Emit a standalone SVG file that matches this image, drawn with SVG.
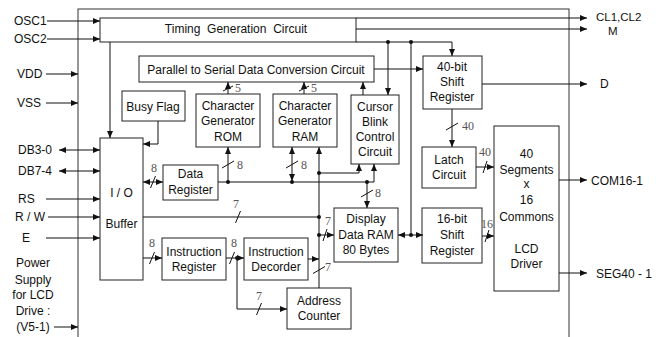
<svg xmlns="http://www.w3.org/2000/svg" width="663" height="337" viewBox="0 0 663 337">
<style>
.b{fill:#fff;stroke:#222;stroke-width:1}
.o{fill:none;stroke:#333;stroke-width:1}
.t{font-family:"Liberation Sans",Arial,sans-serif;font-size:12px;fill:#111;text-anchor:middle}
.tl{font-family:"Liberation Sans",Arial,sans-serif;font-size:12px;fill:#111}
.n{font-family:"Liberation Serif","Times New Roman",serif;font-size:12px;fill:#555;text-anchor:middle}
.c{fill:none;stroke:#111;stroke-width:1}
.ar{marker-end:url(#a)}
.ab{marker-start:url(#a);marker-end:url(#a)}
.s{stroke:#111;stroke-width:1}
.d{fill:#111}
</style>
<defs>
<marker id="a" markerUnits="userSpaceOnUse" markerWidth="8" markerHeight="8" refX="7" refY="3" orient="auto-start-reverse"><path d="M0,0 L7,3 L0,6 z" fill="#111"/></marker>
</defs>
<rect class="o" x="78" y="9" width="491" height="340"/>

<g id="timing"><rect class="b" x="100" y="18" width="256" height="24"/><text class="t" x="236" y="33" xml:space="preserve">Timing  Generation  Circuit</text></g>
<g id="p2s"><rect class="b" x="139" y="56" width="235" height="26"/><text class="t" x="256" y="74">Parallel to Serial Data Conversion Circuit</text></g>
<g id="busy"><rect class="b" x="122" y="91" width="63" height="30"/><text class="t" x="153" y="111">Busy Flag</text></g>
<g id="cgrom"><rect class="b" x="196" y="94" width="64" height="53"/><text class="t" x="228" y="109.5">Character</text><text class="t" x="228" y="125">Generator</text><text class="t" x="228" y="140.5">ROM</text></g>
<g id="cgram"><rect class="b" x="273" y="94" width="64" height="53"/><text class="t" x="305" y="109.5">Character</text><text class="t" x="305" y="125">Generator</text><text class="t" x="305" y="140.5">RAM</text></g>
<g id="cursor"><rect class="b" x="351" y="95" width="48" height="69"/><text class="t" x="375" y="111">Cursor</text><text class="t" x="375" y="126">Blink</text><text class="t" x="375" y="141">Control</text><text class="t" x="375" y="156">Circuit</text></g>
<g id="sr40"><rect class="b" x="423" y="56" width="59" height="53"/><text class="t" x="452" y="71">40-bit</text><text class="t" x="452" y="86">Shift</text><text class="t" x="452" y="101">Register</text></g>
<g id="latch"><rect class="b" x="422" y="147" width="54" height="41"/><text class="t" x="449" y="164">Latch</text><text class="t" x="449" y="179">Circuit</text></g>
<g id="io"><rect class="b" x="100" y="138" width="43" height="142"/><text class="t" x="121.5" y="197">I / O</text><text class="t" x="121.5" y="228">Buffer</text></g>
<g id="dr"><rect class="b" x="163" y="165" width="55" height="35"/><text class="t" x="190.5" y="178">Data</text><text class="t" x="190.5" y="194">Register</text></g>
<g id="ddram"><rect class="b" x="334" y="208" width="64" height="54"/><text class="t" x="366" y="223">Display</text><text class="t" x="366" y="239">Data RAM</text><text class="t" x="366" y="254">80 Bytes</text></g>
<g id="sr16"><rect class="b" x="422" y="208" width="60" height="55"/><text class="t" x="452" y="223">16-bit</text><text class="t" x="452" y="239">Shift</text><text class="t" x="452" y="255">Register</text></g>
<g id="lcd"><rect class="b" x="494" y="126" width="65" height="165"/><text class="t" x="526.5" y="158">40</text><text class="t" x="526.5" y="174">Segments</text><text class="t" x="526.5" y="188">x</text><text class="t" x="526.5" y="204">16</text><text class="t" x="526.5" y="221">Commons</text><text class="t" x="526.5" y="253">LCD</text><text class="t" x="526.5" y="268">Driver</text></g>
<g id="ir"><rect class="b" x="162" y="238" width="64" height="42"/><text class="t" x="194" y="256">Instruction</text><text class="t" x="194" y="271">Register</text></g>
<g id="id"><rect class="b" x="244" y="238" width="64" height="42"/><text class="t" x="276" y="256">Instruction</text><text class="t" x="276" y="271">Decorder</text></g>
<g id="ac"><rect class="b" x="287" y="288" width="64" height="41"/><text class="t" x="319" y="305">Address</text><text class="t" x="319" y="320">Counter</text></g>

<g id="labels">
<text class="tl" x="14" y="25">OSC1</text>
<text class="tl" x="14" y="43">OSC2</text>
<text class="tl" x="17" y="78">VDD</text>
<text class="tl" x="17" y="107">VSS</text>
<text class="tl" x="18" y="154">DB3-0</text>
<text class="tl" x="18" y="175">DB7-4</text>
<text class="tl" x="18" y="203">RS</text>
<text class="tl" x="15" y="221">R / W</text>
<text class="tl" x="22" y="242">E</text>
<text class="t" x="33" y="267">Power</text>
<text class="t" x="33" y="284">Supply</text>
<text class="t" x="33" y="299">for LCD</text>
<text class="t" x="33" y="315">Drive :</text>
<text class="t" x="33" y="331">(V5-1)</text>
<text class="tl" x="596" y="21" style="font-size:11.5px">CL1,CL2</text>
<text class="tl" x="608" y="35" style="font-size:11.5px">M</text>
<text class="tl" x="600" y="88">D</text>
<text class="tl" x="591" y="185">COM16-1</text>
<text class="tl" x="596" y="278">SEG40 - 1</text>
</g>

<g id="connectors">
<line class="c ar" x1="47" y1="21" x2="100" y2="21"/>
<line class="c ar" x1="47" y1="39" x2="100" y2="39"/>
<line class="c ar" x1="46" y1="74" x2="78" y2="74"/>
<line class="c ar" x1="46" y1="103" x2="78" y2="103"/>
<line class="c ab" x1="59" y1="150" x2="100" y2="150"/>
<line class="c ab" x1="59" y1="171" x2="100" y2="171"/>
<line class="c ar" x1="46" y1="199" x2="100" y2="199"/>
<line class="c ar" x1="48" y1="217" x2="100" y2="217"/>
<line class="c ar" x1="46" y1="238" x2="100" y2="238"/>
<line class="c ar" x1="54" y1="327" x2="78" y2="327"/>

<line class="c ar" x1="356" y1="18" x2="587" y2="18"/>
<line class="c ar" x1="356" y1="29" x2="587" y2="29"/>
<path class="c ar" d="M356,42 H452 V56"/>
<circle class="d" cx="388" cy="42" r="2"/>
<circle class="d" cx="411" cy="42" r="2"/>
<line class="c ar" x1="388" y1="42" x2="388" y2="95"/>
<line class="c" x1="411" y1="42" x2="411" y2="235"/>
<line class="c ar" x1="110" y1="42" x2="110" y2="138"/>
<line class="c ar" x1="374" y1="69" x2="423" y2="69"/>
<line class="c ar" x1="482" y1="84" x2="587" y2="84"/>

<line class="c ar" x1="363" y1="95" x2="363" y2="82"/>
<line class="c ar" x1="228" y1="94" x2="228" y2="82"/>
<line class="s" x1="223" y1="91" x2="233" y2="86"/>
<text class="n" x="238" y="92">5</text>
<line class="c ar" x1="304" y1="94" x2="304" y2="82"/>
<line class="s" x1="299" y1="91" x2="309" y2="86"/>
<text class="n" x="314" y="92">5</text>

<path class="c ar" d="M158,121 V144 H143"/>

<line class="c ab" x1="143" y1="182" x2="163" y2="182"/>
<line class="s" x1="150.5" y1="188" x2="155.5" y2="176"/>
<text class="n" x="154" y="172">8</text>

<path class="c ar" d="M218,182 H374 V164"/>
<circle class="d" cx="228" cy="182" r="2"/>
<circle class="d" cx="292" cy="182" r="2"/>
<circle class="d" cx="367" cy="182" r="2"/>
<line class="c ar" x1="228" y1="182" x2="228" y2="147"/>
<line class="s" x1="222" y1="168" x2="234" y2="161"/>
<text class="n" x="240" y="169">8</text>
<line class="c ab" x1="292" y1="181" x2="292" y2="147"/>
<line class="s" x1="286" y1="168" x2="298" y2="161"/>
<text class="n" x="304" y="169">8</text>

<line class="c ar" x1="319" y1="288" x2="319" y2="147"/>
<circle class="d" cx="319" cy="173" r="2"/>
<circle class="d" cx="319" cy="217" r="2"/>
<circle class="d" cx="319" cy="235" r="2"/>
<path class="c ar" d="M319,173 H359 V164"/>
<line class="c ar" x1="367" y1="182" x2="367" y2="208"/>
<line class="s" x1="361" y1="197" x2="373" y2="190"/>
<text class="n" x="378" y="197">8</text>

<line class="c" x1="143" y1="217" x2="319" y2="217"/>
<line class="s" x1="235.5" y1="223" x2="240.5" y2="211"/>
<text class="n" x="236" y="208">7</text>
<line class="c ar" x1="319" y1="235" x2="334" y2="235"/>
<line class="s" x1="323" y1="241" x2="327" y2="229"/>
<text class="n" x="328" y="225">7</text>
<line class="c ar" x1="308" y1="259" x2="319" y2="259"/>
<line class="s" x1="313" y1="273.5" x2="325" y2="266.5"/>
<text class="n" x="328" y="271">7</text>

<line class="c ab" x1="398" y1="235" x2="423" y2="235"/>
<circle class="d" cx="411" cy="235" r="2"/>

<line class="c ar" x1="143" y1="258" x2="162" y2="258"/>
<line class="s" x1="149.5" y1="264" x2="154.5" y2="252"/>
<text class="n" x="152" y="247">8</text>
<line class="c ar" x1="226" y1="258" x2="244" y2="258"/>
<line class="s" x1="229.5" y1="264" x2="234.5" y2="252"/>
<circle class="d" cx="237" cy="258" r="2"/>
<text class="n" x="234" y="247">8</text>
<path class="c ar" d="M237,258 V309 H287"/>
<line class="s" x1="256.5" y1="315" x2="261.5" y2="303"/>
<text class="n" x="259" y="300">7</text>

<line class="c ar" x1="452" y1="109" x2="452" y2="147"/>
<line class="s" x1="446" y1="130" x2="458" y2="123"/>
<text class="n" x="468" y="130">40</text>
<line class="c ar" x1="476" y1="167" x2="494" y2="167"/>
<line class="s" x1="483" y1="173" x2="487" y2="161"/>
<text class="n" x="485" y="156">40</text>
<line class="c ar" x1="482" y1="236" x2="494" y2="236"/>
<line class="s" x1="485" y1="242" x2="489" y2="230"/>
<text class="n" x="487" y="228">16</text>

<line class="c ar" x1="559" y1="180" x2="587" y2="180"/>
<line class="c ar" x1="559" y1="273" x2="587" y2="273"/>
</g>
</svg>
